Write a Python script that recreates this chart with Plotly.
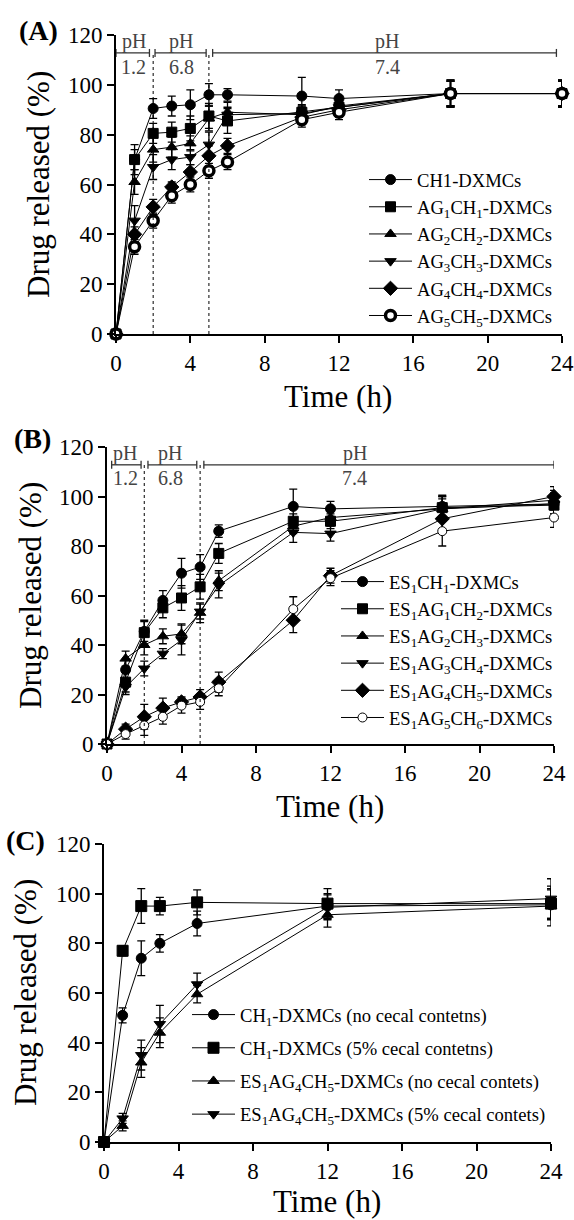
import plotly.graph_objects as go

# ---------------- data ----------------
tA = [0, 1, 2, 3, 4, 5, 6, 10, 12, 18, 24]
A_names = ["CH1-DXMCs", "AG<sub>1</sub>CH<sub>1</sub>-DXMCs", "AG<sub>2</sub>CH<sub>2</sub>-DXMCs",
           "AG<sub>3</sub>CH<sub>3</sub>-DXMCs", "AG<sub>4</sub>CH<sub>4</sub>-DXMCs", "AG<sub>5</sub>CH<sub>5</sub>-DXMCs"]
A_ch1 = [0, 70, 90.5, 91.5, 92, 96, 96, 95.5, 94.5, 96.5, 96.5]
A_ch1_err = [0, 4, 4, 4, 6, 4.5, 2.5, 7.5, 3.5, 5.5, 5.5]
A_ag1 = [0, 70, 80.5, 81, 82.5, 87.5, 85.5, 89, 91, 96.5, 96.5]
A_ag1_err = [0, 6, 4, 4, 5, 5, 5, 3, 3, 5, 5]
A_ag2 = [0, 61, 74, 75, 76.5, 86.5, 89, 88, 91.5, 96.5, 96.5]
A_ag2_err = [0, 5, 5, 4, 3, 5, 4, 3, 3, 5, 5]
A_ag3 = [0, 45.5, 67, 70, 71, 76, 88, 88.5, 91, 96.5, 96.5]
A_ag3_err = [0, 6, 5, 4, 3, 5, 3, 3, 3, 5.5, 5.5]
A_ag4 = [0, 40, 51, 59, 65, 71.5, 75.5, 87, 90, 96.5, 96.5]
A_ag4_err = [0, 3, 3, 2, 3, 4, 3, 3, 3, 5, 5]
A_ag5 = [0, 35, 45.5, 55.5, 60, 65.5, 69, 86, 89, 96.5, 96.5]
A_ag5_err = [0, 3, 3, 3, 3, 3, 3, 3, 3, 5, 5]

tB = [0, 1, 2, 3, 4, 5, 6, 10, 12, 18, 24]
B_names = ["ES<sub>1</sub>CH<sub>1</sub>-DXMCs", "ES<sub>1</sub>AG<sub>1</sub>CH<sub>2</sub>-DXMCs",
           "ES<sub>1</sub>AG<sub>2</sub>CH<sub>3</sub>-DXMCs", "ES<sub>1</sub>AG<sub>3</sub>CH<sub>4</sub>-DXMCs",
           "ES<sub>1</sub>AG<sub>4</sub>CH<sub>5</sub>-DXMCs", "ES<sub>1</sub>AG<sub>5</sub>CH<sub>6</sub>-DXMCs"]
B_1 = [0, 30, 45.5, 58, 69, 71.5, 86, 96, 95, 96, 97]
B_1_err = [0, 4, 4, 4, 6, 5, 2.5, 7, 3, 4, 4]
B_2 = [0, 25, 45, 55, 59, 63.5, 77, 90, 90, 95.5, 96.5]
B_2_err = [0, 4, 5, 4, 5, 5, 4, 3, 3, 5, 5]
B_3 = [0, 34.5, 40, 43.5, 44.5, 53, 66, 88, 91.5, 95, 98.5]
B_3_err = [0, 3, 4, 3, 4, 4, 4, 3, 3, 5, 4]
B_4 = [0, 23, 30.5, 36.5, 42, 53.5, 64, 85.5, 85, 95, 97]
B_4_err = [0, 3, 3, 2, 6, 3, 5, 4, 3, 4, 4]
B_5 = [0, 6, 11, 14.5, 17, 19, 25, 50, 68, 91, 100]
B_5_err = [0, 2, 5, 4, 2, 3, 4, 5, 3, 5, 4]
B_6 = [0, 4, 7.5, 11, 15.5, 17, 22.5, 54.5, 67, 86, 91.5]
B_6_err = [0, 2, 4, 3, 3, 3, 3, 5, 3, 6, 4]

tC = [0, 1, 2, 3, 5, 12, 24]
C_names = ["CH<sub>1</sub>-DXMCs (no cecal contetns)", "CH<sub>1</sub>-DXMCs (5% cecal contetns)",
           "ES<sub>1</sub>AG<sub>4</sub>CH<sub>5</sub>-DXMCs (no cecal contets)",
           "ES<sub>1</sub>AG<sub>4</sub>CH<sub>5</sub>-DXMCs (5% cecal contets)"]
C_1 = [0, 51, 74, 80, 88, 95, 95.5]
C_1_err = [0, 3, 7, 3.5, 5, 5, 6]
C_2 = [0, 77, 95, 95, 96.5, 96, 96]
C_2_err = [0, 2, 7, 3.5, 5, 6, 6]
C_3 = [0, 6.5, 32, 44, 59.5, 91.5, 95]
C_3_err = [0, 2, 6, 6, 3.5, 5, 8]
C_4 = [0, 9.5, 35, 47.5, 63.5, 94.5, 98]
C_4_err = [0, 2, 6, 7.5, 4.5, 5, 8]

# pH phases (A and B)
ph_labels = ["1.2", "6.8", "7.4"]
ph_bounds = [2, 5]
A_phase_start = [0, 2.1, 5.2]
A_phase_end = [1.8, 4.85, 23.7]
A_phase_text_x = [0.95, 3.5, 14.6]
B_phase_start = [0.25, 2.2, 5.2]
B_phase_end = [1.83, 4.82, 24.0]
B_phase_text_x = [0.97, 3.4, 13.3]
ph_line_y = 112.8

x_ticks = [0, 4, 8, 12, 16, 20, 24]
y_ticks = [0, 20, 40, 60, 80, 100, 120]

# ---------------- figure ----------------
FONT = "Liberation Serif, Times New Roman, serif"
W, H = 574, 1220
fig = go.Figure()

def add_series(t, y, err, name, xa, ya, leg, symbol, fill="black", lw=1, size=10, group=None):
    fig.add_trace(go.Scatter(
        x=t, y=y, name=name, mode="lines+markers",
        xaxis=xa, yaxis=ya, legend=leg, legendgroup=group or name,
        line=dict(color="black", width=1),
        marker=dict(symbol=symbol, size=size, color=fill, line=dict(color="black", width=lw)),
        error_y=dict(type="data", array=err, color="black", thickness=1.3, width=4),
        cliponaxis=False,
    ))

A_vals = [(A_ch1, A_ch1_err, "circle", "black", 1, 10),
          (A_ag1, A_ag1_err, "square", "black", 1, 10),
          (A_ag2, A_ag2_err, "triangle-up", "black", 1, 10),
          (A_ag3, A_ag3_err, "triangle-down", "black", 1, 10),
          (A_ag4, A_ag4_err, "diamond", "black", 1, 11),
          (A_ag5, A_ag5_err, "circle", "white", 3.5, 10)]
for i, (y, e, s, f, lw, sz) in enumerate(A_vals):
    add_series(tA, y, e, A_names[i], "x", "y", "legend", s, f, lw, sz, group="a%d" % i)

B_vals = [(B_1, B_1_err, "circle", "black", 1, 10),
          (B_2, B_2_err, "square", "black", 1, 10),
          (B_3, B_3_err, "triangle-up", "black", 1, 10),
          (B_4, B_4_err, "triangle-down", "black", 1, 10),
          (B_5, B_5_err, "diamond", "black", 1, 11),
          (B_6, B_6_err, "circle", "white", 1, 9)]
for i, (y, e, s, f, lw, sz) in enumerate(B_vals):
    add_series(tB, y, e, B_names[i], "x2", "y2", "legend2", s, f, lw, sz, group="b%d" % i)

C_vals = [(C_1, C_1_err, "circle", "black", 1, 10),
          (C_2, C_2_err, "square", "black", 1, 11),
          (C_3, C_3_err, "triangle-up", "black", 1, 10),
          (C_4, C_4_err, "triangle-down", "black", 1, 10)]
for i, (y, e, s, f, lw, sz) in enumerate(C_vals):
    add_series(tC, y, e, C_names[i], "x3", "y3", "legend3", s, f, lw, sz, group="c%d" % i)

# domains (pixel-measured)
def xd(l, r):
    return [l / W, r / W]

def yd(b, t):
    return [1 - b / H, 1 - t / H]

axis_common = dict(showline=True, linecolor="black", linewidth=2, ticks="outside", ticklen=7,
                   tickwidth=2, tickcolor="black", showgrid=False, zeroline=False, automargin=False,
                   tickfont=dict(family=FONT, size=23, color="black"), fixedrange=True)

panels = [("xaxis", "yaxis", "x", "y", xd(116, 562), yd(334, 35)),
          ("xaxis2", "yaxis2", "x2", "y2", xd(107, 554), yd(744, 447)),
          ("xaxis3", "yaxis3", "x3", "y3", xd(104, 551), yd(1142, 844))]
lay = {}
for xa, ya, xr, yr, xdom, ydom in panels:
    lay[xa] = dict(domain=xdom, range=[0, 24], tickvals=x_ticks, anchor=yr, **axis_common)
    lay[ya] = dict(domain=ydom, range=[0, 120], tickvals=y_ticks, anchor=xr, **axis_common)

shapes = []
annotations = []

def phase_marks(xr, yr, starts, ends, text_x):
    for b in ph_bounds:
        shapes.append(dict(type="line", xref=xr, yref=yr, x0=b, x1=b, y0=0, y1=ph_line_y,
                           line=dict(color="black", width=1, dash="dot")))
    for s, e, tx, lab in zip(starts, ends, text_x, ph_labels):
        shapes.append(dict(type="line", xref=xr, yref=yr, x0=s, x1=e, y0=ph_line_y, y1=ph_line_y,
                           line=dict(color="#333", width=1.3)))
        for xx in (s, e):
            shapes.append(dict(type="line", xref=xr, yref=yr, x0=xx, x1=xx, y0=ph_line_y - 1.6,
                               y1=ph_line_y + 1.6, line=dict(color="#333", width=1.3)))
        annotations.append(dict(x=tx, y=ph_line_y + 4.5, xref=xr, yref=yr, text="pH", showarrow=False,
                                font=dict(family=FONT, size=20, color="#444")))
        annotations.append(dict(x=tx, y=ph_line_y - 5.5, xref=xr, yref=yr, text=lab, showarrow=False,
                                font=dict(family=FONT, size=20, color="#444")))

phase_marks("x", "y", A_phase_start, A_phase_end, A_phase_text_x)
phase_marks("x2", "y2", B_phase_start, B_phase_end, B_phase_text_x)

def ptxt(x, y, text, size, angle=0):
    annotations.append(dict(x=x / W, y=1 - y / H, xref="paper", yref="paper", text=text,
                            showarrow=False, textangle=angle, xanchor="center", yanchor="middle",
                            font=dict(family=FONT, size=size, color="black")))

ptxt(38, 30, "<b>(A)</b>", 28)
ptxt(32, 438, "<b>(B)</b>", 28)
ptxt(25, 840, "<b>(C)</b>", 28)
ptxt(338, 397, "Time (h)", 31)
ptxt(330, 806, "Time (h)", 31)
ptxt(327, 1201, "Time (h)", 31)
ptxt(38, 185, "Drug released (%)", 31, angle=-90)
ptxt(31, 596, "Drug released (%)", 31, angle=-90)
ptxt(25, 993, "Drug released (%)", 31, angle=-90)

leg_common = dict(font=dict(family=FONT, size=18.6, color="black"), bgcolor="rgba(0,0,0,0)",
                  itemwidth=43, traceorder="grouped", xanchor="left", yanchor="top", itemclick=False)

fig.update_layout(
    width=W, height=H, margin=dict(l=0, r=0, t=0, b=0, pad=0, autoexpand=False),
    paper_bgcolor="white", plot_bgcolor="white",
    showlegend=True,
    legend=dict(x=364 / W, y=1 - 161 / H, tracegroupgap=0, **leg_common),
    legend2=dict(x=336 / W, y=1 - 563 / H, tracegroupgap=0, **leg_common),
    legend3=dict(x=187 / W, y=1 - 996 / H, tracegroupgap=6, **leg_common),
    shapes=shapes, annotations=annotations,
    **lay,
)

fig.write_html("out.html", config={"displayModeBar": False},
               post_script="document.body.style.margin='0px';")
